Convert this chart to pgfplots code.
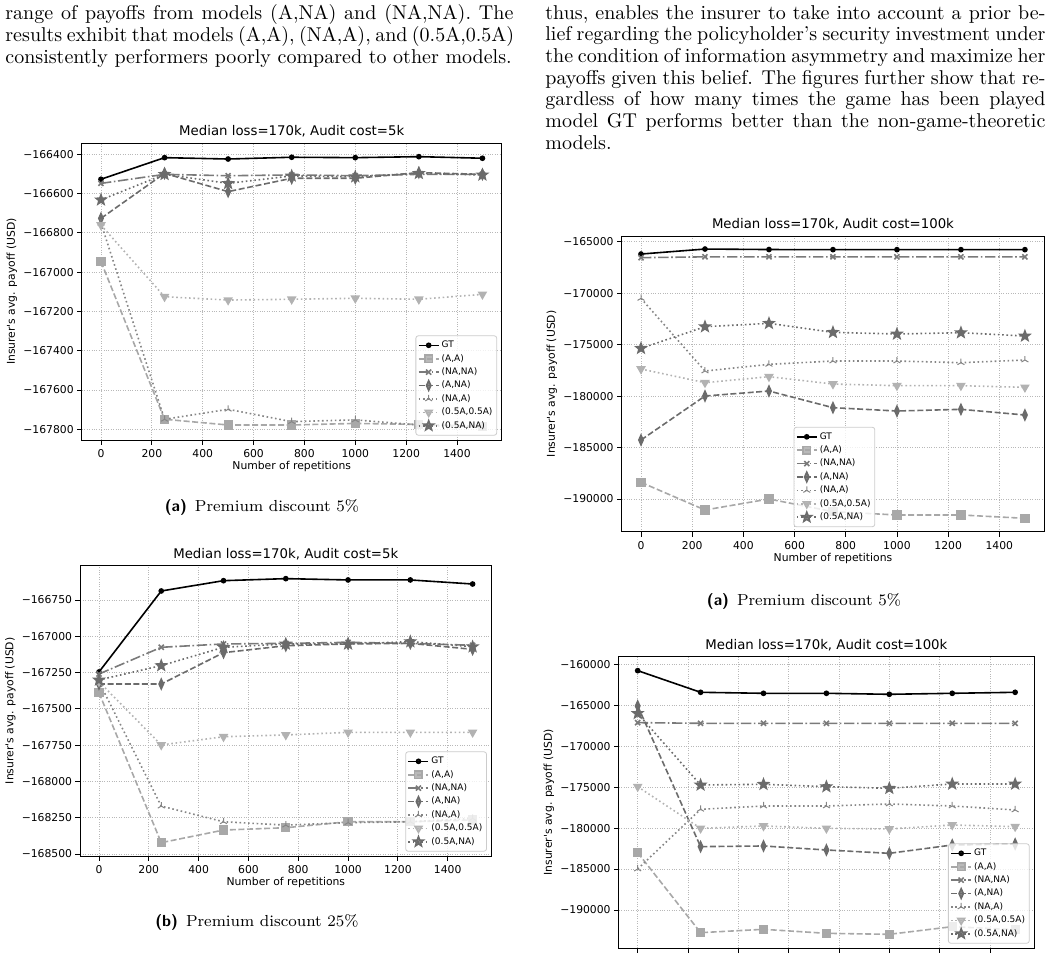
\documentclass[border=0pt]{standalone}
\usepackage{fontspec}
\usepackage{pgfplots}
\usepackage{pgfplotstable}
\pgfplotsset{compat=1.18}
\usetikzlibrary{plotmarks}
\newfontfamily\dejavu[Ligatures=TeXOff]{DejaVu Sans}

\definecolor{cAA}{gray}{0.66}
\definecolor{cNN}{gray}{0.48}
\definecolor{cAN}{gray}{0.42}
\definecolor{cNA}{gray}{0.52}
\definecolor{cHH}{gray}{0.70}
\definecolor{cHN}{gray}{0.42}
\definecolor{gridc}{gray}{0.72}

% filled five-pointed star, like matplotlib's '*'
\pgfdeclareplotmark{fstar}{%
  \pgfpathmoveto{\pgfpointpolar{90}{\pgfplotmarksize}}%
  \pgfpathlineto{\pgfpointpolar{126}{0.42\pgfplotmarksize}}%
  \pgfpathlineto{\pgfpointpolar{162}{\pgfplotmarksize}}%
  \pgfpathlineto{\pgfpointpolar{198}{0.42\pgfplotmarksize}}%
  \pgfpathlineto{\pgfpointpolar{234}{\pgfplotmarksize}}%
  \pgfpathlineto{\pgfpointpolar{270}{0.42\pgfplotmarksize}}%
  \pgfpathlineto{\pgfpointpolar{306}{\pgfplotmarksize}}%
  \pgfpathlineto{\pgfpointpolar{342}{0.42\pgfplotmarksize}}%
  \pgfpathlineto{\pgfpointpolar{18}{\pgfplotmarksize}}%
  \pgfpathlineto{\pgfpointpolar{54}{0.42\pgfplotmarksize}}%
  \pgfpathclose
  \pgfusepathqfillstroke}

% columns: x GT (A,A) (NA,NA) (A,NA) (NA,A) (0.5A,0.5A) (0.5A,NA)
\pgfplotstableread{
x    GT      AA      NN      AN      NA      HH      HN
0    -166527 -166946 -166548 -166726 -166751 -166760 -166632
250  -166417 -167749 -166502 -166497 -167749 -167125 -166502
500  -166424 -167778 -166509 -166590 -167698 -167142 -166548
750  -166415 -167778 -166505 -166522 -167761 -167138 -166510
1000 -166417 -167770 -166509 -166522 -167752 -167133 -166514
1250 -166412 -167775 -166502 -166493 -167778 -167138 -166497
1500 -166420 -167785 -166502 -166502 -167790 -167113 -166505
}\tA
\pgfplotstableread{
x    GT      AA      NN      AN      NA      HH      HN
0    -167246 -167389 -167260 -167329 -167313 -167313 -167301
250  -166688 -168422 -167076 -167329 -168170 -167749 -167202
500  -166617 -168335 -167053 -167113 -168278 -167692 -167076
750  -166603 -168319 -167049 -167065 -168301 -167680 -167053
1000 -166612 -168278 -167042 -167053 -168284 -167662 -167053
1250 -166612 -168278 -167049 -167049 -168278 -167662 -167037
1500 -166640 -168266 -167062 -167090 -168255 -167662 -167072
}\tB
\pgfplotstableread{
x    GT      AA      NN      AN      NA      HH      HN
0    -166198 -188380 -166550 -184266 -170505 -177369 -175362
250  -165712 -191066 -166470 -179992 -177563 -178697 -173257
500  -165760 -189998 -166470 -179506 -176916 -178114 -172933
750  -165770 -191228 -166470 -181125 -176592 -178826 -173807
1000 -165770 -191551 -166470 -181449 -176592 -178988 -173969
1250 -165770 -191551 -166470 -181287 -176754 -178988 -173840
1500 -165770 -191875 -166470 -181838 -176495 -179150 -174163
}\tC
\pgfplotstableread{
x    GT      AA      NN      AN      NA      HH      HN
0    -160773 -182996 -167123 -165088 -184990 -174937 -166000
250  -163419 -192764 -167204 -182263 -177705 -180024 -174733
500  -163541 -192357 -167204 -182182 -177298 -179740 -174652
750  -163541 -192845 -167204 -182670 -177298 -180024 -174937
1000 -163663 -192967 -167204 -183077 -177053 -180106 -175140
1250 -163541 -192031 -167204 -182060 -177298 -179617 -174611
1500 -163419 -192400 -167204 -181938 -177786 -179821 -174611
}\tD

\newcommand{\tickfont}{\dejavu\fontsize{5.4}{6}\selectfont}
\pgfplotsset{
  chart/.style={
    scale only axis,
    xmin=-75, xmax=1575,
    scaled y ticks=false,
    xtick={0,200,...,1400},
    xticklabels={0,200,400,600,800,1000,1200,1400},
    tick pos=left, tick align=outside, major tick length=2.4pt,
    grid=major,
    major grid style={gridc, line width=0.4pt, dash pattern=on 0.4pt off 0.8pt},
    axis line style={black, line width=0.45pt},
    every tick/.style={black, line width=0.45pt},
    tick label style={font=\tickfont, inner sep=0pt},
    xticklabel style={anchor=north, yshift=-2.35pt},
    yticklabel style={anchor=east, xshift=-1.5pt},
    every axis title/.style={font=\dejavu\fontsize{6.65}{7}\selectfont, at={(axis description cs:0.5,1)}, anchor=base, yshift=3.7pt},
    every axis x label/.style={font=\tickfont, at={(axis description cs:0.5,0)}, anchor=base, yshift=-14.85pt},
    every axis y label/.style={font=\tickfont, at={([xshift=-35pt]axis description cs:0,0.5)}, rotate=90, anchor=center},
    title={Median loss=170k, Audit cost=5k},
    xlabel={Number of repetitions},
    ylabel={Insurer's avg. payoff (USD)},
    legend cell align=left,
    legend image code/.code={\draw[mark repeat=2,mark phase=2] plot coordinates {(0pt,0pt) (5pt,0pt) (10pt,0pt)};},
    legend style={font=\dejavu\fontsize{4.5}{5}\selectfont, draw=black!20, line width=0.4pt,
      fill=white, fill opacity=0.8, text opacity=1, draw opacity=1, rounded corners=1.2pt,
      inner xsep=1pt, inner ysep=1.4pt, row sep=0pt,
      nodes={inner sep=1.1pt, text height=3.4pt, text depth=1.1pt}},
  },
  lowright/.style={legend style={at={(axis description cs:1,0)}, anchor=south east, xshift=-2.2pt, yshift=2.2pt}},
  sGT/.style={black, line width=0.8pt, mark=*, mark size=1pt, mark options={solid}},
  sAA/.style={cAA, line width=0.8pt, dash pattern=on 3pt off 1.3pt, mark=square*, mark size=1.9pt, mark options={solid}},
  sNN/.style={cNN, line width=0.8pt, dash pattern=on 5.2pt off 1.3pt on 0.8pt off 1.3pt, mark=x, mark size=1.8pt, mark options={solid}},
  sAN/.style={cAN, line width=0.8pt, dash pattern=on 3pt off 1.3pt, mark=diamond*, mark size=2.4pt, mark options={solid, xscale=0.6}},
  sNA/.style={cNA, line width=0.8pt, dash pattern=on 0.8pt off 1.35pt, mark=Mercedes star, mark size=2pt, mark options={solid, line width=0.5pt}},
  sHH/.style={cHH, line width=0.8pt, dash pattern=on 0.8pt off 1.35pt, mark=triangle*, mark size=2pt, mark options={solid, rotate=180}},
  sHN/.style={cHN, line width=0.8pt, dash pattern=on 0.8pt off 1.35pt, mark=fstar, mark size=2.5pt, mark options={solid}},
}

\newcommand{\allplots}[1]{%
  \addplot[sGT] table[x=x, y=GT] {#1}; \addlegendentry{GT}
  \addplot[sAA] table[x=x, y=AA] {#1}; \addlegendentry{(A,A)}
  \addplot[sNN] table[x=x, y=NN] {#1}; \addlegendentry{(NA,NA)}
  \addplot[sAN] table[x=x, y=AN] {#1}; \addlegendentry{(A,NA)}
  \addplot[sNA] table[x=x, y=NA] {#1}; \addlegendentry{(NA,A)}
  \addplot[sHH] table[x=x, y=HH] {#1}; \addlegendentry{(0.5A,0.5A)}
  \addplot[sHN] table[x=x, y=HN] {#1}; \addlegendentry{(0.5A,NA)}
}

\begin{document}
\begin{tikzpicture}
\path[use as bounding box] (0pt,0pt) rectangle (526pt,-477pt);

% body text of the two columns
\node[anchor=base west, inner sep=0pt] at (2.5pt,-9.65pt) {\fontsize{10}{11}\selectfont
  \vtop{\baselineskip=11.1pt
  \hbox to 254pt{range of payoffs from models (A,NA) and (NA,NA). The}
  \hbox to 254pt{results exhibit that models (A,A), (NA,A), and (0.5A,0.5A)}
  \hbox{consistently performers poorly compared to other models.}}};
\node[anchor=base west, inner sep=0pt] at (272.5pt,-9.5pt) {\fontsize{10}{11}\selectfont
  \vtop{\baselineskip=10.85pt
  \hbox to 250pt{thus, enables the insurer to take into account a prior be-}
  \hbox to 250pt{lief regarding the policyholder's security investment under}
  \hbox to 250pt{the condition of information asymmetry and maximize her}
  \hbox to 250pt{payoffs given this belief. The figures further show that re-}
  \hbox to 250pt{gardless of how many times the game has been played}
  \hbox to 250pt{model GT performs better than the non-game-theoretic}
  \hbox{models.}}};

% captions
\node[anchor=base, inner sep=0pt, font=\fontsize{8}{9.5}\selectfont] at (131pt,-255.8pt)
  {{\sffamily\bfseries (a)}\enspace Premium discount 5\%};
\node[anchor=base, inner sep=0pt, font=\fontsize{8}{9.5}\selectfont] at (128.5pt,-463.3pt)
  {{\sffamily\bfseries (b)}\enspace Premium discount 25\%};
\node[anchor=base, inner sep=0pt, font=\fontsize{8}{9.5}\selectfont] at (402pt,-302.5pt)
  {{\sffamily\bfseries (a)}\enspace Premium discount 5\%};

% top left: discount 5%, audit cost 5k
\begin{axis}[chart, lowright, at={(40.95pt,-220pt)}, anchor=south west,
  width=209.8pt, height=148.35pt,
  ymin=-167854.5, ymax=-166344,
  ytick={-167800,-167600,-167400,-167200,-167000,-166800,-166600,-166400},
  yticklabels={−167800,−167600,−167400,−167200,−167000,−166800,−166600,−166400}]
  \allplots{\tA}
\end{axis}

% bottom left: discount 25%, audit cost 5k
\begin{axis}[chart, lowright, at={(40.15pt,-428pt)}, anchor=south west,
  width=205.5pt, height=145.15pt,
  ymin=-168514, ymax=-166514,
  ytick={-168500,-168250,-168000,-167750,-167500,-167250,-167000,-166750},
  yticklabels={−168500,−168250,−168000,−167750,−167500,−167250,−167000,−166750}]
  \allplots{\tB}
\end{axis}

% top right: discount 5%, audit cost 100k
\begin{axis}[chart, at={(310.9pt,-265.85pt)}, anchor=south west,
  width=211.15pt, height=147.85pt,
  title={Median loss=170k, Audit cost=100k},
  legend style={at={(axis description cs:0.6,0)}, anchor=south east, yshift=2.3pt},
  ymin=-193177, ymax=-164446,
  ytick={-190000,-185000,-180000,-175000,-170000,-165000},
  yticklabels={−190000,−185000,−180000,−175000,−170000,−165000}]
  \allplots{\tC}
\end{axis}

% bottom right: discount 25%, audit cost 100k (cut by the page edge)
\begin{axis}[chart, lowright, at={(309.4pt,-474pt)}, anchor=south west,
  width=207.6pt, height=145.65pt,
  title={Median loss=170k, Audit cost=100k},
  xticklabels={}, xlabel={},
  ymin=-194640, ymax=-159072,
  ytick={-190000,-185000,-180000,-175000,-170000,-165000,-160000},
  yticklabels={−190000,−185000,−180000,−175000,−170000,−165000,−160000}]
  \allplots{\tD}
\end{axis}
\end{tikzpicture}
\end{document}
